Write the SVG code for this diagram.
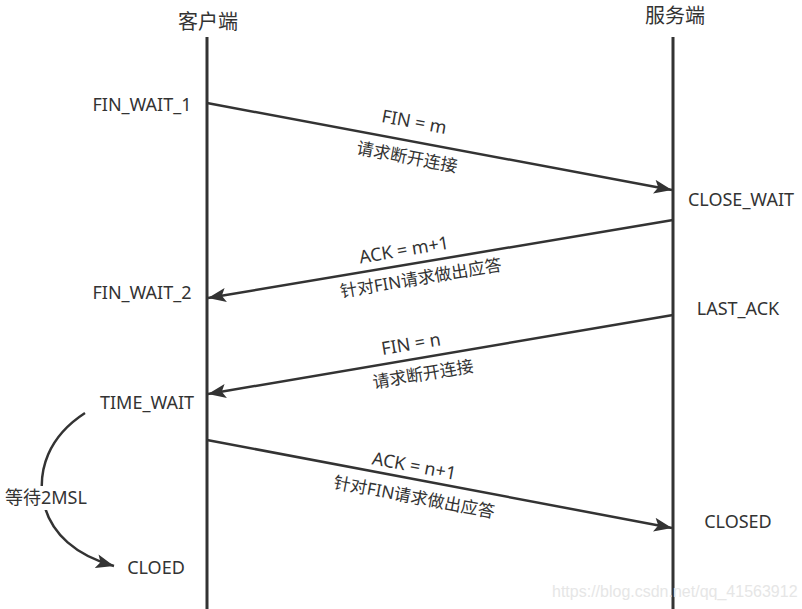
<svg xmlns="http://www.w3.org/2000/svg" width="802" height="609" viewBox="0 0 802 609">
<style>
text{font-family:"Noto Sans","Noto Sans CJK SC",sans-serif;font-size:18px;fill:#333}
.t{text-anchor:middle}
.zh{font-size:17px}
.title{font-size:20px}
.line{stroke:#333;stroke-width:3;fill:none}
.msg{stroke:#333;stroke-width:2.5;fill:none;marker-end:url(#ah)}
</style>
<defs>
<marker id="ah" markerUnits="userSpaceOnUse" markerWidth="20" markerHeight="14" refX="18" refY="7" orient="auto">
<path d="M0,0 L18,7 L0,14 L4,7 Z" fill="#333"/>
</marker>
</defs>
<rect width="802" height="609" fill="#fff"/>
<g id="client">
<text class="t title" x="208" y="29">客户端</text>
<line class="line" x1="207" y1="37" x2="207" y2="609"/>
</g>
<g id="server">
<text class="t title" x="675" y="23">服务端</text>
<line class="line" x1="673" y1="37" x2="673" y2="609"/>
</g>
<g id="states">
<text class="t" x="142" y="111">FIN_WAIT_1</text>
<text class="t" x="142" y="299">FIN_WAIT_2</text>
<text class="t" x="147" y="409">TIME_WAIT</text>
<text class="t" x="156" y="574">CLOED</text>
<text class="t" x="741" y="206">CLOSE_WAIT</text>
<text class="t" x="738" y="315">LAST_ACK</text>
<text class="t" x="738" y="528">CLOSED</text>
</g>
<g id="connectors">
<line class="msg" x1="207" y1="103" x2="672" y2="190"/>
<line class="msg" x1="673" y1="220" x2="208" y2="298"/>
<line class="msg" x1="673" y1="315" x2="208" y2="394"/>
<line class="msg" x1="207" y1="440" x2="672" y2="528"/>
<path class="msg" d="M85,413 C48,437 38,470 43,500 C50,535 78,556 114,566"/>
</g>
<g id="labels">
<text class="t" transform="translate(413,128) rotate(10.6)">FIN = m</text>
<text class="t zh" transform="translate(406,163) rotate(10.6)">请求断开连接</text>
<text class="t" transform="translate(405,256) rotate(-9.5)">ACK = m+1</text>
<text class="t zh" transform="translate(422,284) rotate(-9.5)">针对FIN请求做出应答</text>
<text class="t" transform="translate(412,350) rotate(-9.5)">FIN = n</text>
<text class="t zh" transform="translate(424,380) rotate(-9.5)">请求断开连接</text>
<text class="t" transform="translate(413,472) rotate(10.6)">ACK = n+1</text>
<text class="t zh" transform="translate(413,503) rotate(10.6)">针对FIN请求做出应答</text>
<rect x="4" y="486" width="86" height="24" fill="#fff"/>
<text x="5" y="504" style="font-size:18px">等待2MSL</text>
</g>
<text x="552" y="597" style="font-family:'Liberation Sans',sans-serif;font-size:16px;fill:#e6e6e6">https://blog.csdn.net/qq_41563912</text>
</svg>
